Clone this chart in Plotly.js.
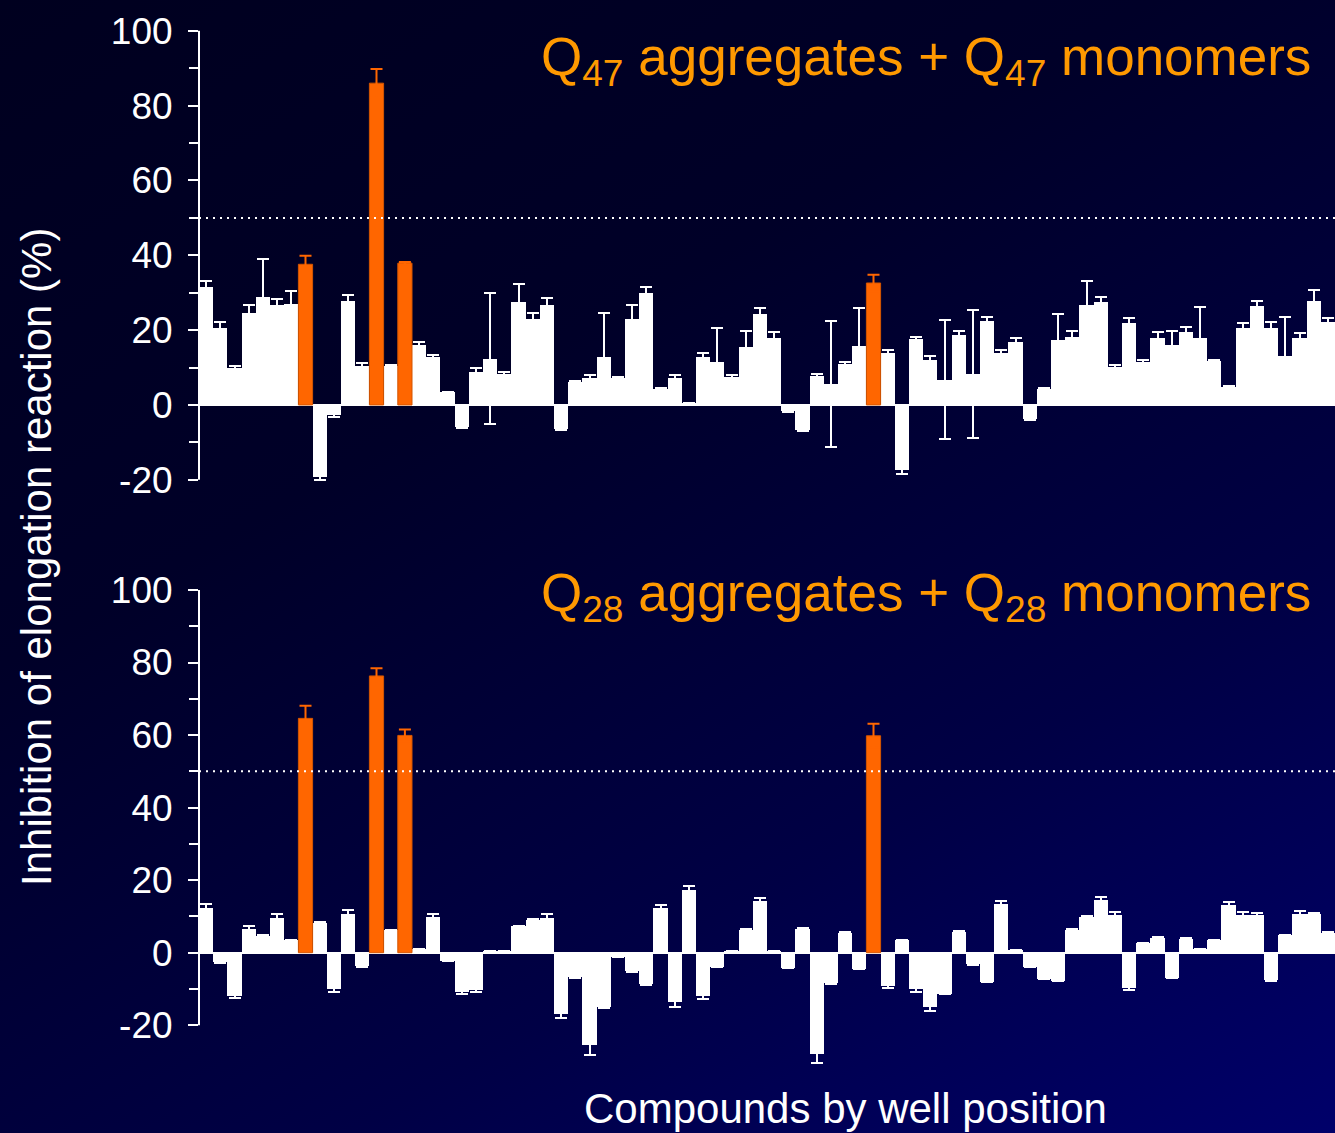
<!DOCTYPE html>
<html>
<head>
<meta charset="utf-8">
<script src="https://cdn.plot.ly/plotly-3.0.1.min.js"></script>
<style>
  html, body { margin: 0; padding: 0; }
  body {
    width: 1335px; height: 1133px; overflow: hidden;
    background: linear-gradient(150deg, #00001f 0%, #000028 35%, #000045 70%, #00006a 100%);
  }
  #chart { width: 1335px; height: 1133px; }
</style>
</head>
<body>
<div id="chart"></div>
<script>
// Compounds by well position (80 wells)
const wellIndex = Array.from({length: 80}, (_, i) => i);
// Hit compounds (highlighted in orange)
const hitWells = [7, 12, 14, 47];

// Q47 aggregates + Q47 monomers: inhibition (%) and error
const q47Values = [31.4, 20.7, 10.0, 24.6, 28.9, 26.6, 27.0, 37.6, -19.3, -2.8,
  27.7, 10.5, 86.0, 10.3, 37.9, 16.0, 12.7, 3.4, -5.8, 8.9,
  12.4, 8.4, 27.4, 22.9, 26.7, -6.4, 6.1, 7.3, 12.8, 7.1,
  22.9, 29.8, 4.3, 7.3, 0.5, 12.8, 11.6, 7.6, 15.4, 24.4,
  18.0, -1.5, -6.7, 7.8, 5.6, 10.9, 15.8, 32.6, 13.9, -17.5,
  17.5, 12.1, 6.8, 18.7, 8.3, 22.4, 14.0, 16.7, -3.8, 4.4,
  17.3, 18.2, 26.6, 27.4, 10.2, 22.0, 11.6, 18.0, 16.1, 19.6,
  17.8, 11.7, 4.9, 20.6, 26.4, 20.6, 13.2, 17.8, 27.8, 22.2];
const q47Errors = [1.8, 1.4, 0.3, 2.0, 10.0, 1.8, 3.5, 2.3, 0.7, 0.3,
  1.8, 0.8, 3.8, 0.3, 0.3, 0.7, 0.7, 0.2, 0.3, 1.0,
  17.4, 0.5, 4.9, 1.6, 1.8, 0.3, 0.3, 0.6, 11.8, 0.5,
  3.8, 1.6, 0.2, 0.7, 0.0, 1.0, 8.9, 0.5, 4.5, 1.4,
  1.4, 0.3, 0.3, 0.5, 16.8, 0.7, 10.1, 2.2, 0.8, 1.0,
  0.7, 1.0, 15.8, 1.1, 17.0, 1.2, 0.6, 1.3, 0.3, 0.2,
  7.0, 1.6, 6.6, 1.5, 0.4, 1.2, 0.3, 1.5, 3.6, 1.2,
  8.4, 0.3, 0.1, 1.4, 1.4, 1.6, 10.3, 1.5, 3.0, 1.1];

// Q28 aggregates + Q28 monomers: inhibition (%) and error
const q28Values = [12.4, -2.5, -11.8, 6.5, 4.7, 9.7, 3.5, 64.6, 8.3, -10.0,
  10.8, -3.6, 76.3, 6.2, 59.9, 1.0, 9.8, -2.2, -10.7, -10.2,
  0.5, 0.5, 7.3, 9.0, 9.7, -16.8, -6.7, -25.5, -15.1, -1.1,
  -5.0, -8.6, 12.2, -13.6, 17.2, -11.9, -3.8, 0.5, 6.4, 14.2,
  0.5, -4.1, 6.5, -28.0, -8.4, 5.5, -4.4, 59.8, -9.1, 3.4,
  -9.9, -15.0, -11.3, 5.8, -3.2, -8.1, 13.3, 0.7, -3.8, -7.2,
  -7.7, 6.4, 9.9, 14.6, 10.3, -9.7, 2.7, 4.1, -6.9, 3.8,
  1.1, 3.4, 13.2, 10.4, 10.3, -7.6, 4.8, 10.8, 10.6, 5.5];
const q28Errors = [1.0, 0.2, 0.7, 0.8, 0.2, 0.9, 0.1, 3.5, 0.2, 0.9,
  0.9, 0.2, 2.1, 0.2, 1.6, 0.1, 0.8, 0.1, 0.6, 0.6,
  0.0, 0.0, 0.2, 0.2, 1.0, 1.2, 0.2, 2.6, 0.2, 0.1,
  0.2, 0.2, 1.0, 1.3, 1.3, 0.9, 0.2, 0.0, 0.1, 0.8,
  0.0, 0.2, 0.3, 2.5, 0.1, 0.2, 0.1, 3.3, 0.5, 0.1,
  1.0, 1.0, 0.2, 0.2, 0.1, 0.1, 0.9, 0.0, 0.1, 0.1,
  0.1, 0.1, 0.1, 0.8, 0.8, 0.6, 0.1, 0.2, 0.1, 0.2,
  0.0, 0.1, 0.8, 0.7, 0.6, 0.1, 0.1, 0.7, 0.3, 0.1];

const yTickVals = [-20, 0, 20, 40, 60, 80, 100];
const yTickText = ['-20', '0', '20', '40', '60', '80', '100'];
const yMinorTickVals = [-10, 10, 30, 50, 70, 90];
const threshold = 50;

const WHITE = '#ffffff';
const ORANGE = '#ff6600';
const TITLE_ORANGE = '#ff9900';
const FONT = 'Liberation Sans, Arial, sans-serif';

function split(values, errors, hit) {
  return {
    y: values.map((v, i) => (hitWells.includes(i) === hit ? v : null)),
    e: errors.map((v, i) => (hitWells.includes(i) === hit ? v : 0))
  };
}

function barTrace(values, errors, hit, xa, ya) {
  const s = split(values, errors, hit);
  const col = hit ? ORANGE : WHITE;
  return {
    type: 'bar', x: wellIndex, y: s.y, xaxis: xa, yaxis: ya,
    marker: {color: col, line: {color: hit ? '#d45500' : WHITE, width: hit ? 1 : 0}},
    error_y: {type: 'data', array: s.e, visible: true, color: col, thickness: 2, width: 6},
    hoverinfo: 'x+y', showlegend: false
  };
}

const traces = [
  barTrace(q47Values, q47Errors, false, 'x', 'y'),
  barTrace(q47Values, q47Errors, true, 'x', 'y'),
  barTrace(q28Values, q28Errors, false, 'x2', 'y2'),
  barTrace(q28Values, q28Errors, true, 'x2', 'y2')
];

const H = 1133;
function pf(px) { return (H - px) / H; }

const yAxisCommon = {
  tickmode: 'array', tickvals: yTickVals, ticktext: yTickText,
  ticks: 'outside', ticklen: 10, tickwidth: 2, tickcolor: WHITE,
  minor: {tickmode: 'array', tickvals: yMinorTickVals, ticks: 'outside', ticklen: 9, tickwidth: 2, tickcolor: WHITE, showgrid: false},
  ticklabelstandoff: 8,
  tickfont: {family: FONT, size: 37, color: WHITE},
  showgrid: false, showline: false,
  zeroline: true, zerolinecolor: WHITE, zerolinewidth: 2,
  fixedrange: true
};
const xAxisCommon = {
  range: [-0.5, 79.5], showticklabels: false, ticks: '', showgrid: false,
  showline: false, zeroline: false, fixedrange: true
};

const layout = {
  width: 1335, height: 1133,
  margin: {l: 199, r: 0, t: 0, b: 0},
  paper_bgcolor: 'rgba(0,0,0,0)', plot_bgcolor: 'rgba(0,0,0,0)',
  barmode: 'overlay', bargap: 0,
  font: {family: FONT, color: WHITE},
  xaxis: Object.assign({}, xAxisCommon, {anchor: 'y'}),
  xaxis2: Object.assign({}, xAxisCommon, {anchor: 'y2'}),
  yaxis: Object.assign({}, yAxisCommon, {range: [-22, 102], domain: [pf(487.3), pf(23.3)]}),
  yaxis2: Object.assign({}, yAxisCommon, {range: [-32, 102], domain: [pf(1068.8), pf(582.7)]}),
  shapes: [
    {type: 'line', xref: 'paper', yref: 'y', x0: 0, x1: 0, y0: -20, y1: 100, line: {color: WHITE, width: 2}},
    {type: 'line', xref: 'paper', yref: 'y2', x0: 0, x1: 0, y0: -20, y1: 100, line: {color: WHITE, width: 2}},
    {type: 'line', xref: 'paper', yref: 'y', x0: 0, x1: 1, y0: threshold, y1: threshold, line: {color: WHITE, width: 2, dash: '2px,5px'}},
    {type: 'line', xref: 'paper', yref: 'y2', x0: 0, x1: 1, y0: threshold, y1: threshold, line: {color: WHITE, width: 2, dash: '2px,5px'}}
  ],
  annotations: [
    {text: 'Q<sub>47</sub> aggregates + Q<sub>47</sub> monomers', xref: 'paper', yref: 'paper',
     x: (1313 - 199) / 1136, y: pf(60), xanchor: 'right', yanchor: 'middle', showarrow: false,
     font: {family: FONT, size: 53, color: TITLE_ORANGE}},
    {text: 'Q<sub>28</sub> aggregates + Q<sub>28</sub> monomers', xref: 'paper', yref: 'paper',
     x: (1313 - 199) / 1136, y: pf(596), xanchor: 'right', yanchor: 'middle', showarrow: false,
     font: {family: FONT, size: 53, color: TITLE_ORANGE}},
    {text: 'Inhibition of elongation reaction (%)', xref: 'paper', yref: 'paper',
     x: (36 - 199) / 1136, y: pf(557), xanchor: 'center', yanchor: 'middle', textangle: -90, showarrow: false,
     font: {family: FONT, size: 42, color: WHITE}},
    {text: 'Compounds by well position', xref: 'paper', yref: 'paper',
     x: (845 - 199) / 1136, y: pf(1108), xanchor: 'center', yanchor: 'middle', showarrow: false,
     font: {family: FONT, size: 42, color: WHITE}}
  ]
};

Plotly.newPlot('chart', traces, layout, {displayModeBar: false, staticPlot: true});
</script>
</body>
</html>
